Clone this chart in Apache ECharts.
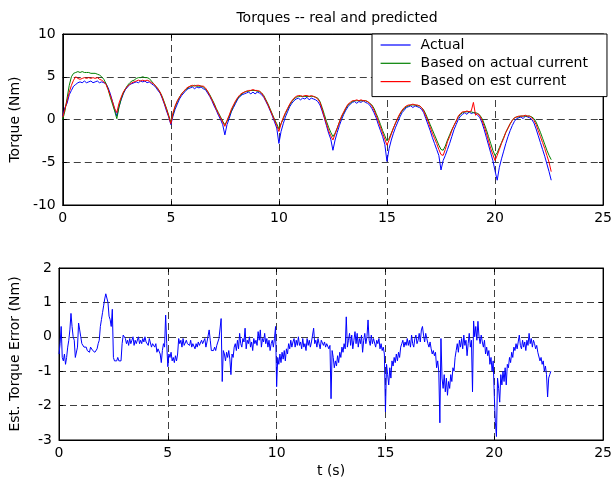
<!DOCTYPE html>
<html>
<head>
<meta charset="utf-8">
<script src="https://cdn.jsdelivr.net/npm/echarts@6/dist/echarts.min.js"></script>
<style>
  html, body { margin: 0; padding: 0; background: #fff; }
  #chart { width: 615px; height: 479px; }
</style>
</head>
<body>
<div id="chart"></div>
<script>
// sample spacing (s): torques every 0.1 s, error every 0.05 s
var torqueDt = 0.1;
var errorDt = 0.05;

var xTicks = [0, 5, 10, 15, 20, 25];
var torqueTicks = [-10, -5, 0, 5, 10];
var errorTicks = [-3, -2, -1, 0, 1, 2];

// measured torque (Nm)
var actual = [
  0.4, 1.4, 1.9, 2.9, 3.4, 3.9, 4.1, 4.3, 4.4, 4.3,
  4.5, 4.3, 4.4, 4.5, 4.3, 4.4, 4.5, 4.3, 4.4, 4.3,
  4.2, 3.7, 3.0, 2.1, 1.2, 0.4, 1.5, 2.3, 3.0, 3.5,
  3.8, 4.1, 4.2, 4.3, 4.4, 4.3, 4.5, 4.4, 4.5, 4.3,
  4.4, 4.2, 4.0, 3.8, 3.4, 3.1, 2.5, 1.8, 1.0, 0.3,
  -0.6, 0.4, 1.2, 1.8, 2.4, 2.8, 3.1, 3.4, 3.6, 3.7,
  3.8, 3.6, 3.8, 3.7, 3.8, 3.6, 3.5, 3.1, 2.7, 2.2,
  1.6, 1.1, 0.5, 0.0, -0.6, -1.8, -0.6, 0.1, 0.9, 1.4,
  1.9, 2.4, 2.7, 2.9, 3.0, 3.1, 3.2, 3.0, 3.2, 3.0,
  3.2, 3.1, 2.9, 2.6, 2.1, 1.6, 1.0, 0.4, -0.3, -1.0,
  -2.8, -1.4, -0.5, 0.3, 0.9, 1.5, 1.9, 2.2, 2.4, 2.5,
  2.3, 2.5, 2.4, 2.6, 2.3, 2.5, 2.4, 2.3, 2.1, 1.7,
  1.0, 0.2, -0.7, -1.6, -2.3, -3.6, -2.4, -1.5, -0.7, 0.0,
  0.6, 1.1, 1.5, 1.8, 2.0, 2.1, 1.9, 2.1, 2.0, 2.2,
  2.0, 1.9, 1.7, 1.3, 0.8, 0.2, -0.6, -1.3, -2.0, -2.9,
  -4.9, -3.4, -2.4, -1.6, -0.9, -0.3, 0.3, 0.8, 1.1, 1.4,
  1.5, 1.6, 1.4, 1.6, 1.5, 1.4, 1.2, 0.8, 0.1, -0.6,
  -1.3, -2.1, -2.8, -3.5, -4.2, -5.9, -4.8, -4.2, -3.5, -2.8,
  -2.0, -1.2, -0.6, 0.0, 0.4, 0.6, 0.8, 0.6, 0.9, 0.7,
  0.8, 0.7, 0.5, 0.2, -0.4, -1.2, -2.1, -3.0, -3.9, -4.8,
  -6.0, -7.1, -5.6, -4.6, -3.7, -2.8, -2.0, -1.3, -0.7, -0.2,
  0.1, 0.2, 0.3, 0.1, 0.4, 0.3, 0.2, 0.0, -0.4, -1.1,
  -1.9, -2.7, -3.5, -4.3, -5.2, -6.1, -7.1
];

// predicted from actual current
var fromActual = [
  0.0, 1.0, 2.5, 4.0, 5.0, 5.4, 5.5, 5.6, 5.5, 5.6,
  5.5, 5.5, 5.5, 5.4, 5.4, 5.4, 5.3, 5.2, 5.0, 4.7,
  4.2, 3.5, 2.6, 1.8, 1.0, 0.1, 1.4, 2.4, 3.1, 3.6,
  4.0, 4.3, 4.5, 4.6, 4.8, 4.9, 4.9, 5.0, 4.9, 4.9,
  4.8, 4.5, 4.2, 3.9, 3.6, 3.2, 2.7, 2.0, 1.3, 0.5,
  -0.3, 0.6, 1.5, 2.1, 2.6, 3.0, 3.3, 3.5, 3.7, 3.9,
  3.9, 4.0, 3.9, 3.9, 3.9, 3.8, 3.6, 3.3, 2.9, 2.4,
  1.9, 1.3, 0.8, 0.3, -0.2, -0.6, -0.2, 0.4, 1.0, 1.6,
  2.1, 2.5, 2.8, 3.0, 3.2, 3.3, 3.3, 3.4, 3.4, 3.4,
  3.3, 3.3, 3.1, 2.8, 2.3, 1.8, 1.2, 0.6, 0.0, -0.5,
  -1.1, -0.5, 0.1, 0.7, 1.2, 1.7, 2.1, 2.4, 2.6, 2.7,
  2.7, 2.7, 2.7, 2.7, 2.7, 2.7, 2.7, 2.6, 2.5, 2.1,
  1.4, 0.6, -0.2, -0.9, -1.5, -2.0, -1.6, -1.0, -0.3, 0.3,
  0.8, 1.3, 1.7, 1.9, 2.1, 2.2, 2.2, 2.2, 2.2, 2.2,
  2.2, 2.1, 1.9, 1.7, 1.3, 0.7, 0.1, -0.6, -1.3, -1.9,
  -2.5, -2.2, -1.6, -1.0, -0.4, 0.1, 0.6, 1.0, 1.3, 1.5,
  1.6, 1.7, 1.7, 1.7, 1.6, 1.6, 1.4, 1.1, 0.6, 0.0,
  -0.6, -1.2, -1.8, -2.4, -3.0, -3.5, -3.6, -3.1, -2.4, -1.8,
  -1.2, -0.7, -0.2, 0.3, 0.6, 0.8, 0.9, 0.9, 0.9, 0.9,
  0.8, 0.8, 0.7, 0.5, 0.1, -0.5, -1.2, -2.0, -2.8, -3.6,
  -4.2, -3.9, -3.3, -2.7, -2.1, -1.5, -1.0, -0.5, -0.1, 0.2,
  0.3, 0.3, 0.4, 0.4, 0.4, 0.4, 0.4, 0.3, 0.1, -0.3,
  -0.9, -1.5, -2.2, -2.9, -3.6, -4.2, -4.7
];

// predicted from estimated current
var fromEst = [
  0.3, 1.2, 2.2, 3.2, 4.0, 4.6, 5.0, 4.8, 4.7, 4.8,
  4.9, 4.8, 4.9, 4.8, 4.9, 4.8, 4.9, 4.7, 4.6, 4.4,
  4.1, 3.5, 2.8, 2.1, 1.3, 0.8, 1.9, 2.6, 3.2, 3.6,
  3.9, 4.1, 4.3, 4.4, 4.5, 4.6, 4.5, 4.6, 4.5, 4.6,
  4.5, 4.3, 4.2, 3.9, 3.6, 3.2, 2.6, 1.9, 1.2, 0.4,
  -0.5, 0.8, 1.6, 2.2, 2.6, 3.0, 3.3, 3.6, 3.8, 3.9,
  4.0, 3.9, 4.0, 4.0, 3.9, 3.9, 3.7, 3.3, 2.8, 2.3,
  1.8, 1.2, 0.7, 0.2, -0.3, -0.8, -0.1, 0.5, 1.2, 1.7,
  2.2, 2.6, 2.9, 3.1, 3.2, 3.3, 3.4, 3.4, 3.5, 3.4,
  3.4, 3.3, 3.1, 2.7, 2.2, 1.7, 1.1, 0.5, -0.1, -0.7,
  -1.4, -0.5, 0.2, 0.8, 1.3, 1.8, 2.2, 2.5, 2.7, 2.8,
  2.8, 2.7, 2.8, 2.8, 2.7, 2.8, 2.7, 2.6, 2.4, 2.0,
  1.2, 0.3, -0.5, -1.3, -1.9, -2.4, -1.7, -1.0, -0.3, 0.4,
  0.9, 1.4, 1.8, 2.0, 2.2, 2.2, 2.3, 2.2, 2.3, 2.2,
  2.2, 2.1, 1.9, 1.6, 1.1, 0.5, -0.2, -0.9, -1.6, -2.3,
  -3.0, -2.4, -1.7, -1.0, -0.4, 0.2, 0.7, 1.1, 1.4, 1.6,
  1.7, 1.7, 1.8, 1.7, 1.7, 1.6, 1.4, 1.0, 0.4, -0.2,
  -0.9, -1.6, -2.2, -2.8, -3.5, -4.1, -4.2, -3.5, -2.6, -2.0,
  -1.3, -0.7, -0.2, 0.4, 0.7, 0.9, 0.9, 1.0, 0.9, 1.0,
  2.0, 0.5, 0.7, 0.4, -0.1, -0.8, -1.6, -2.5, -3.4, -4.1,
  -4.8, -4.2, -3.5, -2.8, -2.2, -1.5, -1.0, -0.5, -0.1, 0.2,
  0.3, 0.4, 0.4, 0.4, 0.5, 0.4, 0.4, 0.2, -0.1, -0.6,
  -1.3, -2.0, -2.7, -3.4, -4.2, -5.0, -6.1
];

// estimated torque error (Nm), one row per second
var torqueError = [
  -0.5, -0.2, 0.3, -0.6, -0.7, -0.5, -0.8, -0.6, -0.3, -0.1, 0.2, 0.68, 0.3, 0.0, -0.1, -0.6, -0.65, -0.3, 0.4, 0.2,
  0.0, -0.2, -0.25, -0.3, -0.35, -0.3, -0.4, -0.35, -0.45, -0.3, -0.35, -0.4, -0.35, -0.45, -0.5, -0.35, -0.2, -0.1, 0.3, 0.5,
  0.7, 0.9, 1.1, 1.25, 1.3, 1.0, 0.6, 0.5, 0.3, 0.8, -0.6, -0.7, -0.65, -0.7, -0.6, -0.7, -0.65, -0.7, -0.2, 0.05,
  0.1, -0.05, -0.2, -0.1, -0.25, -0.05, -0.2, -0.1, 0.0, -0.25, -0.1, -0.2, -0.15, 0.0, -0.2, -0.1, -0.2, -0.05, -0.15, 0.0,
  -0.15, -0.1, -0.25, -0.05, -0.1, -0.3, -0.2, -0.25, -0.3, -0.2, -0.45, -0.35, -0.3, -0.5, -0.75, -0.4, -0.2, -0.3, 0.63, -0.2,
  -0.87, -0.5, -0.6, -0.45, -0.7, -0.6, -0.75, -0.55, -0.7, -0.5, -0.05, -0.2, -0.1, -0.3, -0.05, -0.25, -0.3, -0.1, -0.2, -0.15,
  -0.25, -0.1, -0.3, -0.2, -0.15, -0.35, -0.2, -0.3, -0.15, -0.25, -0.3, -0.1, -0.2, -0.25, -0.05, -0.3, -0.15, -0.1, 0.2, -0.1,
  -0.4, -0.35, -0.4, -0.3, -0.4, -0.25, -0.2, -0.05, 0.0, 0.53, -1.3, -0.4, -0.5, -0.7, -0.45, -0.6, -0.4, -0.65, -1.1, -0.5,
  -0.6, -0.3, -0.2, -0.4, -0.1, -0.35, 0.1, -0.2, -0.3, -0.05, -0.15, 0.25, -0.35, -0.1, -0.2, 0.0, -0.3, -0.15, -0.4, -0.05,
  -0.2, -0.1, -0.25, 0.15, -0.1, 0.2, -0.3, -0.05, -0.15, 0.1, -0.2, -0.05, -0.3, -0.1, -0.4, -0.2, -0.1, -0.3, -0.05, 0.3,
  -1.45, -0.6, -0.8, -0.5, -0.75, -0.45, -0.65, -0.4, -0.7, -0.35, -0.5, -0.2, -0.35, -0.1, -0.3, -0.15, -0.05, -0.3, -0.1, -0.25,
  0.0, -0.25, -0.15, -0.35, -0.05, -0.3, -0.2, -0.4, -0.05, -0.25, -0.1, -0.3, -0.15, 0.05, 0.25, -0.2, -0.1, -0.3, -0.05, -0.2,
  -0.35, -0.1, -0.05, -0.25, -0.15, -0.3, -0.2, -0.15, -0.35, -0.25, -1.8, -0.4, -0.6, -0.9, -0.7, -0.85, -0.55, -0.75, -0.45, -0.6,
  -0.3, -0.45, -0.2, -0.35, 0.58, -0.3, -0.1, 0.1, -0.25, 0.05, -0.35, -0.1, 0.15, -0.2, 0.1, -0.3, -0.05, -0.2, 0.05, -0.45,
  -0.1, 0.1, -0.2, 0.0, 0.49, -0.1, -0.25, 0.05, -0.2, -0.05, 0.0, -0.3, -0.1, -0.2, -0.05, -0.35, -0.2, -0.4, -0.3, -0.5,
  -2.18, -0.8, -1.1, -1.4, -0.9, -1.2, -0.7, -0.85, -0.6, -0.75, -0.5, -0.7, -0.45, -0.6, -0.3, -0.2, -0.1, -0.3, -0.15, -0.25,
  -0.05, -0.25, -0.1, -0.3, 0.05, -0.2, -0.3, -0.05, 0.05, -0.2, -0.1, 0.1, -0.15, 0.2, 0.3, 0.05, -0.15, 0.1, -0.05, -0.2,
  -0.3, -0.15, -0.35, -0.5, -0.4, -0.55, -0.45, -0.9, -0.7, -1.0, -2.5, -0.05, -1.2, -1.5, -1.1, -1.6, -1.2, -1.7, -1.3, -1.5,
  -1.1, -1.3, -0.9, -1.0, -0.6, -0.4, -0.2, -0.45, -0.1, -0.3, -0.05, -0.35, 0.05, -0.25, -0.1, -0.55, -0.2, 0.1, -0.3, -0.1,
  -1.6, 0.46, 0.0, 0.3, -0.1, 0.45, 0.0, -0.2, 0.05, -0.15, -0.3, -0.1, -0.5, -0.3, -0.55, -0.4, -0.8, -0.6, -1.0, -0.7,
  -1.7, -2.5, -2.9, -1.2, -1.5, -1.9, -1.1, -1.4, -1.0, -1.3, -0.9, -1.4, -0.8, -0.9, -0.6, -0.75, -0.45, -0.6, -0.3, -0.4,
  -0.2, -0.35, -0.15, 0.05, -0.25, -0.35, -0.1, -0.3, -0.15, -0.4, -0.1, -0.25, 0.1, -0.2, -0.05, -0.3, -0.1, -0.2, -0.35, -0.25,
  -0.45, -0.5, -0.7, -0.6, -0.8, -0.7, -1.0, -0.85, -1.1, -1.75, -1.2, -1.1, -1.0
];

function withTime(values, step) {
  return values.map(function (v, i) { return [Math.round(i * step * 100) / 100, v]; });
}

var chart = echarts.init(document.getElementById('chart'), null, { renderer: 'canvas' });

var font = 'DejaVu Sans';
var txt = { color: '#000', fontFamily: font, fontSize: 14 };
var gridDash = { color: '#000', type: [7, 4], width: 1, opacity: 0.75 };

function xAxisFor(gridIndex, name, pos, showLabel) {
  return {
    type: 'value', gridIndex: gridIndex, position: pos,
    min: xTicks[0], max: xTicks[xTicks.length - 1], interval: 5,
    name: name, nameLocation: 'middle', nameGap: 24, nameTextStyle: txt,
    axisLine: { show: true, onZero: false, lineStyle: { color: '#000', width: 1 } },
    axisTick: { show: true, inside: true, length: 4, lineStyle: { color: '#000' } },
    axisLabel: { show: showLabel, margin: 6, color: '#000', fontFamily: font, fontSize: 14 },
    splitLine: { show: showLabel, lineStyle: gridDash }
  };
}

function yAxisFor(gridIndex, ticks, name, pos, showLabel) {
  return {
    type: 'value', gridIndex: gridIndex, position: pos,
    min: ticks[0], max: ticks[ticks.length - 1], interval: ticks[1] - ticks[0],
    name: name, nameLocation: 'middle', nameGap: 37, nameTextStyle: txt,
    axisLine: { show: true, onZero: false, lineStyle: { color: '#000', width: 1 } },
    axisTick: { show: true, inside: true, length: 4, lineStyle: { color: '#000' } },
    axisLabel: { show: showLabel, margin: 7, color: '#000', fontFamily: font, fontSize: 14 },
    splitLine: { show: showLabel, lineStyle: gridDash }
  };
}

function lineSeries(name, data, step, color, xi, yi) {
  return {
    name: name, type: 'line', data: withTime(data, step),
    xAxisIndex: xi, yAxisIndex: yi,
    showSymbol: false, symbol: 'none', smooth: false,
    lineStyle: { color: color, width: 1 }, itemStyle: { color: color },
    emphasis: { disabled: true }
  };
}

var option = {
  animation: false,
  backgroundColor: '#fff',
  title: {
    text: 'Torques -- real and predicted',
    left: 332, top: 6, textAlign: 'center',
    textStyle: { color: '#000', fontFamily: font, fontSize: 14, fontWeight: 'normal' }
  },
  legend: {
    data: ['Actual', 'Based on actual current', 'Based on est current'],
    orient: 'vertical', left: 372, top: 34,
    padding: [4, 19, 8, 8], itemGap: 4.3, itemWidth: 30, itemHeight: 14,
    itemStyle: { opacity: 0 },
    lineStyle: { width: 1.2 },
    backgroundColor: '#fff', borderColor: '#000', borderWidth: 1, borderRadius: 0,
    textStyle: { color: '#000', fontFamily: font, fontSize: 14, padding: [0, 0, 0, 5] },
    selectedMode: false
  },
  grid: [
    { left: 58, top: 34, width: 549, height: 171, show: true, borderColor: '#000', borderWidth: 1, backgroundColor: '#fff' },
    { left: 58, top: 268, width: 549, height: 172, show: true, borderColor: '#000', borderWidth: 1, backgroundColor: '#fff' }
  ],
  xAxis: [
    xAxisFor(0, '', 'bottom', true),
    xAxisFor(1, 't (s)', 'bottom', true),
    xAxisFor(0, '', 'top', false),
    xAxisFor(1, '', 'top', false)
  ],
  yAxis: [
    yAxisFor(0, torqueTicks, 'Torque (Nm)', 'left', true),
    yAxisFor(1, errorTicks, 'Est. Torque Error (Nm)', 'left', true),
    yAxisFor(0, torqueTicks, '', 'right', false),
    yAxisFor(1, errorTicks, '', 'right', false)
  ],
  series: [
    lineSeries('Actual', actual, torqueDt, '#0000ff', 0, 0),
    lineSeries('Based on actual current', fromActual, torqueDt, '#008000', 0, 0),
    lineSeries('Based on est current', fromEst, torqueDt, '#ff0000', 0, 0),
    lineSeries('Est. Torque Error', torqueError, errorDt, '#0000ff', 1, 1)
  ]
};

chart.setOption(option);
</script>
</body>
</html>
